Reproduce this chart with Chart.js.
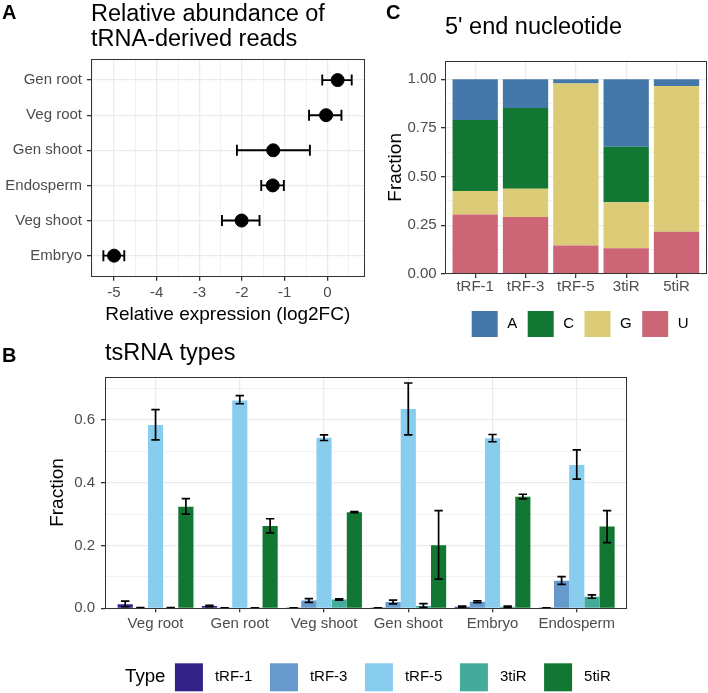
<!DOCTYPE html>
<html>
<head>
<meta charset="utf-8">
<script src="https://cdn.jsdelivr.net/npm/chart.js@4"></script>
<style>
  body { margin: 0; background: #fff; }
  #fig { position: relative; width: 708px; height: 693px; font-family: "Liberation Sans", Arial, sans-serif; }
  .box { position: absolute; }
  .tag { position: absolute; font-weight: bold; font-size: 20px; line-height: 1; color: #000; }
</style>
</head>
<body>
<div id="fig">
  <div class="box" style="left:0;top:0;width:372px;height:330px"><canvas id="chartA"></canvas></div>
  <div class="box" style="left:370px;top:0;width:338px;height:345px"><canvas id="chartC"></canvas></div>
  <div class="box" style="left:0;top:330px;width:708px;height:363px"><canvas id="chartB"></canvas></div>
  <div class="tag" style="left:2px;top:2px">A</div>
  <div class="tag" style="left:386px;top:2px">C</div>
  <div class="tag" style="left:2px;top:345px">B</div>
</div>
<script>
// ---- panel A: relative abundance (log2FC) ----
const aTissues = ['Gen root', 'Veg root', 'Gen shoot', 'Endosperm', 'Veg shoot', 'Embryo'];
const aLog2FC = [0.24, -0.03, -1.27, -1.28, -2.01, -5.0];
const aLow = [-0.12, -0.43, -2.12, -1.55, -2.47, -5.25];
const aHigh = [0.57, 0.33, -0.41, -1.02, -1.59, -4.76];
const aXTicks = [-5.5, -5, -4.5, -4, -3.5, -3, -2.5, -2, -1.5, -1, -0.5, 0, 0.5];

// ---- panel C: 5' end nucleotide ----
const cTypes = ['tRF-1', 'tRF-3', 'tRF-5', '3tiR', '5tiR'];
const cU = [0.306, 0.293, 0.147, 0.132, 0.217];
const cG = [0.120, 0.145, 0.832, 0.236, 0.749];
const cC = [0.365, 0.415, 0.000, 0.286, 0.000];
const cA = [0.209, 0.147, 0.021, 0.346, 0.034];
const cYTicks = [0, 0.125, 0.25, 0.375, 0.5, 0.625, 0.75, 0.875, 1];

// ---- panel B: tsRNA types ----
const bTissues = ['Veg root', 'Gen root', 'Veg shoot', 'Gen shoot', 'Embryo', 'Endosperm'];
const bTypes = ['tRF-1', 'tRF-3', 'tRF-5', '3tiR', '5tiR'];
const tRF1 = [0.013, 0.007, 0.001, 0.001, 0.005, 0.001];
const tRF1Low = [0.005, 0.005, 0.0005, 0.0005, 0.003, 0.0005];
const tRF1High = [0.023, 0.009, 0.0015, 0.0015, 0.007, 0.0015];
const tRF3 = [0.002, 0.001, 0.025, 0.020, 0.021, 0.088];
const tRF3Low = [0.0015, 0.0005, 0.019, 0.014, 0.018, 0.076];
const tRF3High = [0.0025, 0.0015, 0.031, 0.026, 0.024, 0.101];
const tRF5 = [0.583, 0.661, 0.543, 0.634, 0.541, 0.456];
const tRF5Low = [0.536, 0.651, 0.534, 0.552, 0.530, 0.411];
const tRF5High = [0.632, 0.677, 0.552, 0.717, 0.553, 0.504];
const tiR3 = [0.002, 0.001, 0.028, 0.007, 0.005, 0.037];
const tiR3Low = [0.0015, 0.0005, 0.026, 0.003, 0.003, 0.032];
const tiR3High = [0.0025, 0.0015, 0.030, 0.015, 0.007, 0.043];
const tiR5 = [0.323, 0.262, 0.306, 0.201, 0.355, 0.260];
const tiR5Low = [0.300, 0.240, 0.304, 0.093, 0.348, 0.209];
const tiR5High = [0.349, 0.285, 0.308, 0.311, 0.363, 0.311];
const bYTicks = [0, 0.1, 0.2, 0.3, 0.4, 0.5, 0.6, 0.7];

const typeColors = ['#332288', '#6699CC', '#88CCEE', '#44AA99', '#117733'];
const nucColors = { A: '#4477AA', C: '#117733', G: '#DDCC77', U: '#CC6677' };

Chart.defaults.font.family = '"Liberation Sans", Arial, sans-serif';
Chart.defaults.animation = false;

const GRID = '#ebebeb';
const DARK = '#333333';
const TICK_TXT = '#4d4d4d';

// error bars, drawn from the scales
const errorBars = {
    id: 'errorBars',
    afterDatasetsDraw(chart, args, o) {
        const ctx = chart.ctx;
        ctx.save();
        ctx.strokeStyle = '#000';
        ctx.lineWidth = o.width;
        chart.data.datasets.forEach((ds, i) => {
            if (!ds.errLow) return;
            chart.getDatasetMeta(i).data.forEach((el, j) => {
                ctx.beginPath();
                if (o.horizontal) {
                    const x1 = chart.scales.x.getPixelForValue(ds.errLow[j]);
                    const x2 = chart.scales.x.getPixelForValue(ds.errHigh[j]);
                    ctx.moveTo(x1, el.y); ctx.lineTo(x2, el.y);
                    ctx.moveTo(x1, el.y - o.cap); ctx.lineTo(x1, el.y + o.cap);
                    ctx.moveTo(x2, el.y - o.cap); ctx.lineTo(x2, el.y + o.cap);
                } else {
                    const y1 = chart.scales.y.getPixelForValue(ds.errLow[j]);
                    const y2 = chart.scales.y.getPixelForValue(ds.errHigh[j]);
                    ctx.moveTo(el.x, y1); ctx.lineTo(el.x, y2);
                    ctx.moveTo(el.x - o.cap, y1); ctx.lineTo(el.x + o.cap, y1);
                    ctx.moveTo(el.x - o.cap, y2); ctx.lineTo(el.x + o.cap, y2);
                }
                ctx.stroke();
            });
        });
        ctx.restore();
    }
};

// panel frame like theme_bw
const panelBorder = {
    id: 'panelBorder',
    afterDraw(chart) {
        const a = chart.chartArea, ctx = chart.ctx;
        ctx.save();
        ctx.strokeStyle = DARK;
        ctx.lineWidth = 1;
        ctx.strokeRect(Math.round(a.left) + 0.5, Math.round(a.top) + 0.5,
            Math.round(a.right - a.left) - 1, Math.round(a.bottom - a.top) - 1);
        ctx.restore();
    }
};

// horizontal legend with square keys under the panel
const keyLegend = {
    id: 'keyLegend',
    afterDraw(chart, args, o) {
        if (!o.box) return;
        const ctx = chart.ctx, a = chart.chartArea;
        let items = chart.data.datasets.map(d => ({ label: d.label, color: d.backgroundColor }));
        if (o.reverse) items = items.reverse();
        let x = a.left + o.x;
        const y = a.bottom + o.y;
        ctx.save();
        ctx.textBaseline = 'middle';
        ctx.textAlign = 'left';
        ctx.fillStyle = '#000';
        if (o.title) {
            ctx.font = o.titleFont;
            ctx.fillText(o.title, x, y + o.box / 2);
            x += ctx.measureText(o.title).width + o.titleGap;
        }
        ctx.font = o.font;
        items.forEach(it => {
            ctx.fillStyle = it.color;
            ctx.fillRect(x, y, o.box, o.box);
            x += o.box + o.gap;
            ctx.fillStyle = '#000';
            ctx.fillText(it.label, x, y + o.box / 2);
            x += ctx.measureText(it.label).width + o.spacing;
        });
        ctx.restore();
    }
};

const isInt = v => Math.abs(v - Math.round(v)) < 1e-9;

// ---------- chart A ----------
new Chart(document.getElementById('chartA'), {
    type: 'scatter',
    data: {
        datasets: [{
            data: aLog2FC.map((v, i) => ({ x: v, y: aTissues.length - i })),
            errLow: aLow,
            errHigh: aHigh,
            backgroundColor: '#000',
            borderColor: '#000',
            borderWidth: 1,
            pointRadius: 6.5
        }]
    },
    options: {
        responsive: true,
        maintainAspectRatio: false,
        layout: { padding: { left: 0, right: 4.3, top: 0, bottom: 0 } },
        scales: {
            x: {
                type: 'linear', min: -5.54, max: 0.87,
                afterBuildTicks: s => { s.ticks = aXTicks.map(v => ({ value: v })); },
                afterFit: s => { s.height = 53.3; },
                ticks: {
                    autoSkip: false, maxRotation: 0, padding: 3.3,
                    color: TICK_TXT, font: { size: 15 },
                    callback: v => isInt(v) ? String(v) : ''
                },
                grid: {
                    color: GRID,
                    lineWidth: c => (c.tick && isInt(c.tick.value)) ? 1.3 : 0.65,
                    tickLength: 4,
                    tickColor: c => (c.tick && isInt(c.tick.value)) ? DARK : 'rgba(0,0,0,0)'
                },
                border: { display: false },
                title: {
                    display: true, text: 'Relative expression (log2FC)', color: '#000',
                    font: { size: 19 }, padding: { top: 0, bottom: 3.6 }
                }
            },
            y: {
                type: 'linear', min: 0.4, max: 6.6,
                afterBuildTicks: s => { s.ticks = aTissues.map((t, i) => ({ value: aTissues.length - i })); },
                afterFit: s => { s.width = 91; },
                ticks: {
                    autoSkip: false, padding: 5, color: TICK_TXT, font: { size: 15 },
                    callback: v => aTissues[aTissues.length - v]
                },
                grid: { color: GRID, lineWidth: 1.3, tickLength: 4, tickColor: DARK },
                border: { display: false }
            }
        },
        plugins: {
            legend: { display: false },
            tooltip: { enabled: false },
            title: {
                display: true, fullSize: false, align: 'start', color: '#000',
                text: ['Relative abundance of', 'tRNA-derived reads'],
                font: { size: 23.5, weight: 'normal', lineHeight: 1.06 },
                padding: { top: 2, bottom: 7.2 }
            },
            errorBars: { horizontal: true, cap: 5.5, width: 1.9 }
        }
    },
    plugins: [errorBars, panelBorder]
});

// ---------- chart C ----------
const cSeries = [
    { label: 'U', data: cU },
    { label: 'G', data: cG },
    { label: 'C', data: cC },
    { label: 'A', data: cA }
];
new Chart(document.getElementById('chartC'), {
    type: 'bar',
    data: {
        datasets: cSeries.map(s => ({
            label: s.label,
            data: s.data.map((v, i) => ({ x: i + 1, y: v })),
            backgroundColor: nucColors[s.label],
            borderWidth: 0,
            barPercentage: 0.9,
            categoryPercentage: 1
        }))
    },
    options: {
        responsive: true,
        maintainAspectRatio: false,
        layout: { padding: { left: 0, right: 1.3, top: 0, bottom: 0 } },
        scales: {
            x: {
                type: 'linear', min: 0.4, max: 5.6, stacked: true, offset: false,
                afterBuildTicks: s => { s.ticks = cTypes.map((t, i) => ({ value: i + 1 })); },
                afterFit: s => { s.height = 71; },
                ticks: {
                    autoSkip: false, maxRotation: 0, padding: 0, color: TICK_TXT, font: { size: 15 },
                    callback: v => cTypes[v - 1]
                },
                grid: { offset: false, color: GRID, lineWidth: 1.3, tickLength: 4, tickColor: DARK },
                border: { display: false }
            },
            y: {
                type: 'linear', min: 0, max: 1.0955, stacked: true,
                afterBuildTicks: s => { s.ticks = cYTicks.map(v => ({ value: v })); },
                afterFit: s => { s.width = 75; },
                ticks: {
                    autoSkip: false, padding: 4.3, color: TICK_TXT, font: { size: 15 },
                    callback: (v, i) => i % 2 === 0 ? v.toFixed(2) : ''
                },
                grid: {
                    color: GRID,
                    lineWidth: c => (c.index % 2 === 0) ? 1.3 : 0.65,
                    tickLength: 4,
                    tickColor: c => (c.index % 2 === 0) ? DARK : 'rgba(0,0,0,0)'
                },
                border: { display: false },
                title: {
                    display: true, text: 'Fraction', color: '#000',
                    font: { size: 19 }, padding: { top: 14.6, bottom: 0 }
                }
            }
        },
        plugins: {
            legend: { display: false },
            tooltip: { enabled: false },
            title: {
                display: true, fullSize: false, align: 'start', color: '#000',
                text: "5' end nucleotide",
                font: { size: 23.5, weight: 'normal', lineHeight: 1.2 },
                padding: { top: 13, bottom: 19.5 }
            },
            keyLegend: {
                reverse: true, x: 26.7, y: 37, box: 26, gap: 9.5, spacing: 10.5,
                font: '15px "Liberation Sans", Arial, sans-serif'
            }
        }
    },
    plugins: [panelBorder, keyLegend]
});

// ---------- chart B ----------
const bSeries = [
    { v: tRF1, lo: tRF1Low, hi: tRF1High },
    { v: tRF3, lo: tRF3Low, hi: tRF3High },
    { v: tRF5, lo: tRF5Low, hi: tRF5High },
    { v: tiR3, lo: tiR3Low, hi: tiR3High },
    { v: tiR5, lo: tiR5Low, hi: tiR5High }
];
new Chart(document.getElementById('chartB'), {
    type: 'bar',
    data: {
        datasets: bSeries.map((s, k) => ({
            label: bTypes[k],
            data: s.v.map((v, i) => ({ x: i + 1, y: v })),
            errLow: s.lo,
            errHigh: s.hi,
            backgroundColor: typeColors[k],
            borderWidth: 0,
            barPercentage: 1,
            categoryPercentage: 0.9
        }))
    },
    options: {
        responsive: true,
        maintainAspectRatio: false,
        layout: { padding: { left: 0, right: 80.7, top: 0, bottom: 0 } },
        scales: {
            x: {
                type: 'linear', min: 0.4, max: 6.6, offset: false,
                afterBuildTicks: s => { s.ticks = bTissues.map((t, i) => ({ value: i + 1 })); },
                afterFit: s => { s.height = 84.7; },
                ticks: {
                    autoSkip: false, maxRotation: 0, padding: 2.5, color: TICK_TXT, font: { size: 15 },
                    callback: v => bTissues[v - 1]
                },
                grid: { offset: false, color: GRID, lineWidth: 1.3, tickLength: 4, tickColor: DARK },
                border: { display: false }
            },
            y: {
                type: 'linear', min: 0, max: 0.737,
                afterBuildTicks: s => { s.ticks = bYTicks.map(v => ({ value: v })); },
                afterFit: s => { s.width = 105; },
                ticks: {
                    autoSkip: false, padding: 6, color: TICK_TXT, font: { size: 15 },
                    callback: (v, i) => i % 2 === 0 ? v.toFixed(1) : ''
                },
                grid: {
                    color: GRID,
                    lineWidth: c => (c.index % 2 === 0) ? 1.3 : 0.65,
                    tickLength: 4,
                    tickColor: c => (c.index % 2 === 0) ? DARK : 'rgba(0,0,0,0)'
                },
                border: { display: false },
                title: {
                    display: true, text: 'Fraction', color: '#000',
                    font: { size: 19 }, padding: { top: 46, bottom: 0 }
                }
            }
        },
        plugins: {
            legend: { display: false },
            tooltip: { enabled: false },
            title: {
                display: true, fullSize: false, align: 'start', color: '#000',
                text: 'tsRNA types',
                font: { size: 23.5, weight: 'normal', lineHeight: 1.2 },
                padding: { top: 9.9, bottom: 8.6 }
            },
            errorBars: { horizontal: false, cap: 4.2, width: 1.7 },
            keyLegend: {
                title: 'Type', titleFont: '18.7px "Liberation Sans", Arial, sans-serif', titleGap: 9.4,
                x: 20, y: 55, box: 28, gap: 12, spacing: 17.5,
                font: '15px "Liberation Sans", Arial, sans-serif'
            }
        }
    },
    plugins: [errorBars, panelBorder, keyLegend]
});
</script>
</body>
</html>
